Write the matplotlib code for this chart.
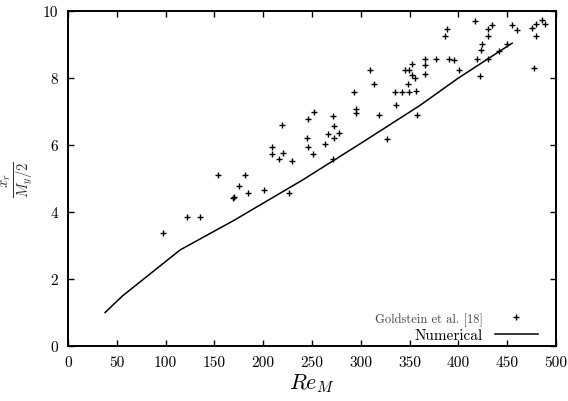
import numpy as np
import matplotlib
matplotlib.use("Agg")
import matplotlib.pyplot as plt

# Goldstein et al. [18] experimental points (Re_M, x_r / (M_y/2))
exp_re = [97.7, 122, 135, 169, 170, 175, 184.8, 201, 226, 154, 181.7,
          209.3, 209.3, 219, 220.6, 216, 230, 246, 245, 246, 252.4, 251.3,
          271.8, 273, 266.4, 277.7, 273, 263.6, 271.8, 292.7, 295, 295,
          309, 313.5, 319, 327, 335.4, 335.7, 342.5, 349.4, 356.6, 358,
          345.3, 349.4, 352, 352.5, 355.2, 348, 366, 366, 366, 377,
          386.6, 388.3, 390, 395, 401, 417.3, 418.7, 421.8, 422.8, 424.5,
          430, 430, 434, 430, 441.3, 449.5, 455, 459.7, 475.7, 477.5,
          480, 480, 485.7, 488.7]
exp_xr = [3.36, 3.84, 3.86, 4.43, 4.45, 4.77, 4.58, 4.65, 4.58, 5.10, 5.10,
          5.95, 5.73, 6.61, 5.77, 5.58, 5.51, 6.77, 6.22, 5.95, 6.99, 5.73,
          6.88, 6.57, 6.32, 6.36, 6.20, 6.02, 5.57, 7.57, 7.09, 6.97,
          8.23, 7.83, 6.90, 6.18, 7.57, 7.20, 7.57, 7.59, 7.60, 6.89,
          8.23, 8.23, 8.42, 8.10, 8.00, 7.81, 8.57, 8.38, 8.11, 8.57,
          9.24, 9.46, 8.57, 8.53, 8.23, 9.69, 8.57, 8.06, 8.84, 9.01,
          9.45, 9.25, 9.58, 8.57, 8.81, 9.01, 9.58, 9.44, 9.49, 8.30,
          9.62, 9.26, 9.74, 9.62]

# numerical curve
num_re = [38, 56, 115, 170, 240, 300, 360, 400, 455]
num_xr = [1.0, 1.5, 2.87, 3.75, 4.95, 6.05, 7.17, 8.0, 9.04]

xticks = [0, 50, 100, 150, 200, 250, 300, 350, 400, 450, 500]
yticks = [0, 2, 4, 6, 8, 10]

plt.rcParams['font.family'] = ['cmr10', 'DejaVu Serif']
plt.rcParams['mathtext.fontset'] = 'cm'
plt.rcParams['axes.unicode_minus'] = False

fig = plt.figure(figsize=(5.68, 4.02), dpi=100)
ax = fig.add_axes([0.1197, 0.1368, 0.8592, 0.8333])

ax.plot(exp_re, exp_xr, linestyle='none', marker='+', color='black',
        markersize=5, markeredgewidth=1.0, label='Goldstein et al. [18]')
ax.plot(num_re, num_xr, color='black', linewidth=1.1, label='Numerical')

ax.set_xlim(0, 500)
ax.set_ylim(0, 10)
ax.set_xticks(xticks)
ax.set_yticks(yticks)
ax.tick_params(direction='in', top=True, right=True, length=4, width=1,
               labelsize=11, pad=7)
for s in ax.spines.values():
    s.set_linewidth(1.4)

ax.set_xlabel(r'$Re_M$', fontsize=16, labelpad=1)
ax.set_ylabel(r'$\frac{x_r}{M_y/2}$', fontsize=15, color='#333333')
ax.yaxis.set_label_coords(-0.066, 0.5)

leg = ax.legend(loc='lower right', bbox_to_anchor=(0.984, -0.02),
                markerfirst=False, frameon=False,
                handlelength=2.8, handletextpad=0.75, labelspacing=0.15,
                borderaxespad=0.3, fontsize=11)
texts = leg.get_texts()
texts[0].set_fontsize(9)
texts[0].set_color('#444444')

fig.savefig('out.png', dpi=100)
